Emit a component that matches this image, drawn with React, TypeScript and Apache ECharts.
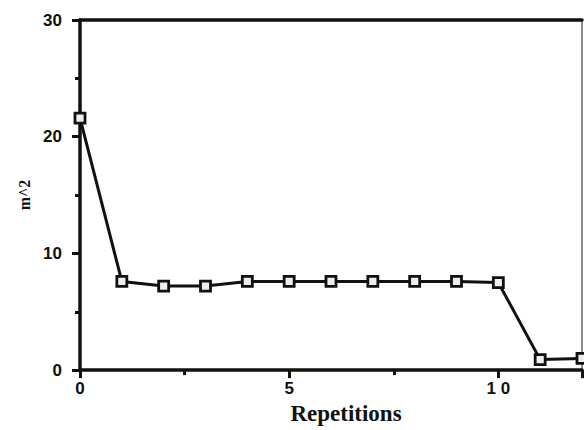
import React, { useEffect, useRef } from "react";
import * as echarts from "echarts";

const repetitions = [0, 1, 2, 3, 4, 5, 6, 7, 8, 9, 10, 11, 12];
const areaValues = [21.6, 7.6, 7.2, 7.2, 7.6, 7.6, 7.6, 7.6, 7.6, 7.6, 7.5, 0.9, 1.0];
const xTicks = [0, 5, 10];
const yTicks = [0, 10, 20, 30];

export default function App() {
  const ref = useRef<HTMLDivElement>(null);
  useEffect(() => {
    if (!ref.current) return;
    const chart = echarts.init(ref.current, undefined, { renderer: "svg" });
    const ink = "#111";
    chart.setOption({
      animation: false,
      backgroundColor: "#fff",
      grid: { left: 80, right: 2, top: 20, bottom: 58, containLabel: false },
      xAxis: [
        {
          type: "value",
          min: 0,
          max: 12,
          interval: 5,
          name: "Repetitions",
          nameLocation: "middle",
          nameGap: 27,
          nameTextStyle: { fontFamily: "Liberation Serif", fontWeight: "bold", fontSize: 23, color: ink, padding: [0, 0, 0, 30] },
          axisLine: { show: true, lineStyle: { color: ink, width: 3.5 } },
          axisTick: { show: true, length: 8, lineStyle: { color: ink, width: 3 } },
          minorTick: { show: true, splitNumber: 2, length: 5, lineStyle: { color: ink, width: 3 } },
          axisLabel: {
            margin: 10,
            fontFamily: "Liberation Sans",
            fontWeight: "bold",
            fontSize: 17,
            color: ink,
            showMaxLabel: false,
            formatter: (v: number) => (xTicks.includes(v) ? (v === 10 ? "1 0" : String(v)) : ""),
          },
          splitLine: { show: false },
        },
        {
          type: "value",
          position: "top",
          min: 0,
          max: 12,
          axisLine: { show: true, onZero: false, lineStyle: { color: ink, width: 3.5 } },
          axisTick: { show: false },
          axisLabel: { show: false },
          splitLine: { show: false },
        },
      ],
      yAxis: [
        {
          type: "value",
          min: 0,
          max: 30,
          interval: 10,
          name: "m^2",
          nameLocation: "middle",
          nameGap: 40,
          nameTextStyle: { fontFamily: "Liberation Serif", fontWeight: "bold", fontSize: 16, color: ink, padding: [0, 0, 0, 0] },
          axisLine: { show: true, lineStyle: { color: ink, width: 3.5 } },
          axisTick: { show: true, length: 8, lineStyle: { color: ink, width: 3 } },
          minorTick: { show: true, splitNumber: 2, length: 5, lineStyle: { color: ink, width: 3 } },
          axisLabel: {
            margin: 18,
            fontFamily: "Liberation Sans",
            fontWeight: "bold",
            fontSize: 17,
            color: ink,
            formatter: (v: number) => (yTicks.includes(v) ? String(v) : ""),
          },
          splitLine: { show: false },
        },
        {
          type: "value",
          position: "right",
          min: 0,
          max: 30,
          axisLine: { show: true, onZero: false, lineStyle: { color: "#666", width: 1.5 } },
          axisTick: { show: false },
          axisLabel: { show: false },
          splitLine: { show: false },
        },
      ],
      series: [
        {
          type: "line",
          data: repetitions.map((r, i) => [r, areaValues[i]]),
          symbol: "rect",
          symbolSize: 10,
          clip: false,
          lineStyle: { color: ink, width: 3 },
          itemStyle: { color: "#eee", borderColor: ink, borderWidth: 2.8 },
        },
      ],
    });
    return () => chart.dispose();
  }, []);
  return <div ref={ref} style={{ width: 584, height: 430, position: "absolute", left: 0, top: 0 }} />;
}
